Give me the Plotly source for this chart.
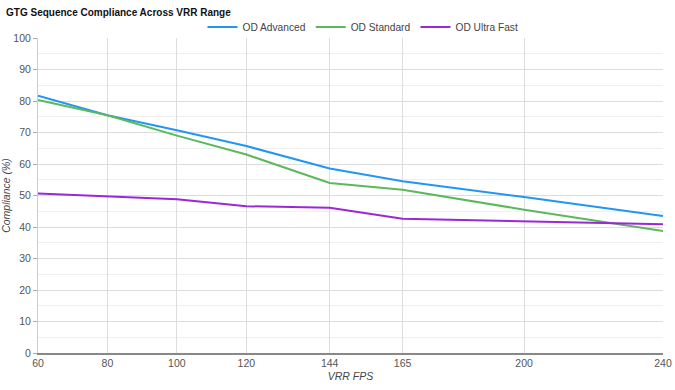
import plotly.graph_objects as go

fps = [60, 80, 100, 120, 144, 165, 200, 240]
od_advanced = [81.7, 75.5, 70.7, 65.7, 58.6, 54.5, 49.5, 43.5]
od_standard = [80.3, 75.5, 69.0, 63.0, 54.0, 51.8, 45.5, 38.7]
od_ultra_fast = [50.6, 49.6, 48.8, 46.6, 46.1, 42.6, 41.8, 40.9]
x_ticks = [60, 80, 100, 120, 144, 165, 200, 240]
y_ticks = [0, 10, 20, 30, 40, 50, 60, 70, 80, 90, 100]

series = [
    ("OD Advanced", od_advanced, "#2196F3"),
    ("OD Standard", od_standard, "#5CB85C"),
    ("OD Ultra Fast", od_ultra_fast, "#9C27D9"),
]

fig = go.Figure()
for name, vals, color in series:
    fig.add_trace(go.Scatter(x=fps, y=vals, name=name, mode="lines",
                             line=dict(color=color, width=2)))

font = "Liberation Sans, Arial, sans-serif"
fig.update_layout(
    width=675, height=390,
    margin=dict(l=38, r=12, t=38, b=37, autoexpand=False),
    paper_bgcolor="white", plot_bgcolor="white",
    font=dict(family=font, size=10.5, color="#666"),
    title=dict(text="<b>GTG Sequence Compliance Across VRR Range</b>",
               x=0.009, xanchor="left", xref="container",
               y=1 - 12 / 390, yanchor="middle", yref="container",
               font=dict(size=10, color="#111", family=font)),
    legend=dict(orientation="h", x=0.52, xanchor="center", xref="paper",
                y=1 - 27 / 390, yanchor="middle", yref="container",
                font=dict(size=10.2, color="#444"), bgcolor="rgba(0,0,0,0)",
                itemwidth=30, tracegroupgap=0),
    showlegend=True,
)
fig.update_xaxes(
    range=[60, 240], tickvals=x_ticks, ticktext=[str(v) for v in x_ticks],
    automargin=False,
    showgrid=True, gridcolor="#dddddd", gridwidth=1,
    zeroline=False, showline=True, linecolor="#888", linewidth=1.5,
    ticks="", tickfont=dict(size=10.5, color="#555"),
    title=dict(text="<i>VRR FPS</i>", font=dict(size=10.5, color="#444"), standoff=4),
)
fig.update_yaxes(
    range=[0, 100], tickvals=y_ticks, automargin=False,
    showgrid=True, gridcolor="#dddddd", gridwidth=1,
    minor=dict(dtick=5, showgrid=True, gridcolor="#f0f0f0", gridwidth=1),
    zeroline=False, showline=True, linecolor="#cccccc", linewidth=1,
    ticks="outside", ticklen=4, tickcolor="#aaa",
    tickfont=dict(size=10.5, color="#555"),
    title=dict(text="<i>Compliance (%)</i>", font=dict(size=10.5, color="#444"), standoff=2),
)
fig.write_html("out.html", config={"displayModeBar": False},
               post_script="document.body.style.margin='0';document.body.style.overflow='hidden';")
